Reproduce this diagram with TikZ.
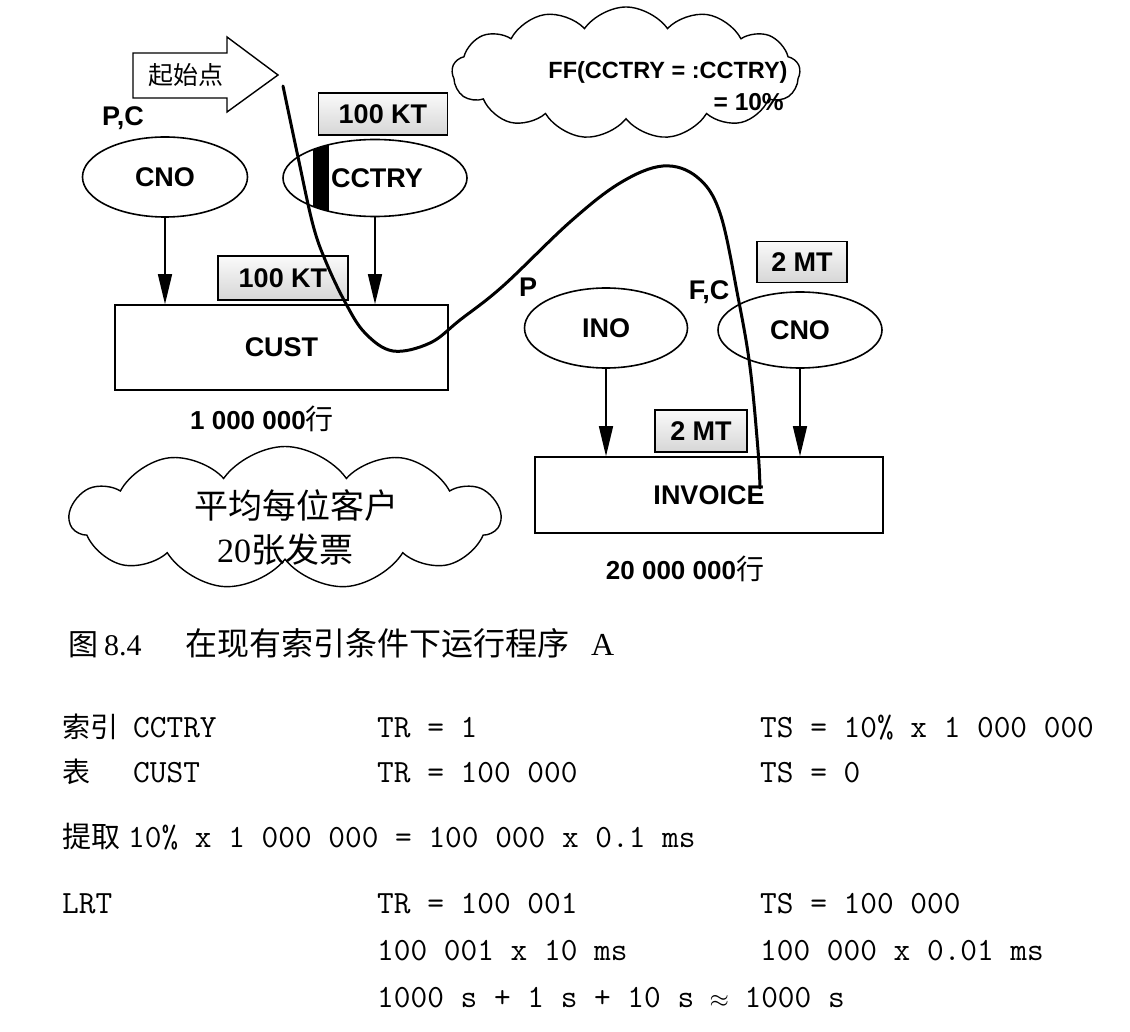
\documentclass[tikz,border=0pt]{standalone}
\usepackage{fontspec}
\setmainfont{Liberation Serif}
\setsansfont{Liberation Sans}
\newfontfamily\cjk{Noto Sans CJK SC}
\usetikzlibrary{shapes.geometric,shapes.symbols,arrows.meta}
\begin{document}
\begin{tikzpicture}[x=1pt,y=-1pt,
  lbl/.style={font=\sffamily\bfseries\fontsize{27}{30}\selectfont},
  ell/.style={ellipse, draw, line width=1.6pt, inner sep=0, lbl},
  tbl/.style={rectangle, draw, line width=1.6pt, inner sep=0, lbl},
  tagbox/.style={rectangle, draw, line width=1.3pt, top color=gray!4, bottom color=gray!32, inner sep=0, lbl},
  arr/.style={line width=1.6pt, -{Triangle[length=30pt,width=14pt]}},
  cloudsty/.style={cloud, draw, cloud puffs=11, cloud puff arc=110, cloud ignores aspect, line width=1.4pt, inner sep=0},
  mono/.style={font=\ttfamily\fontsize{32.4}{36}\selectfont, anchor=base west, inner sep=0},
  cjkrow/.style={font=\cjk\fontsize{28}{30}\selectfont, anchor=base west, inner sep=0},
  captxt/.style={anchor=base west, inner sep=0}
]
\useasboundingbox (0,0) rectangle (1130,1032);
\fill[white] (0,0) rectangle (1130,1032);

% start arrow
\draw[line width=1.4pt, fill=white] (133,53) -- (227,53) -- (227,37) -- (278,75) -- (227,112) -- (227,98) -- (133,98) -- cycle;
\node[inner sep=0, font=\cjk\fontsize{25}{27}\selectfont] (start) at (186,75) {起始点};

% clouds
\node[cloudsty, cloud puffs=13, minimum width=348, minimum height=132] (cloudA) at (626,73) {};
\node[inner sep=0, font=\sffamily\bfseries\fontsize{23.5}{28}\selectfont] (ffa) at (668,72) {FF(CCTRY = :CCTRY)};
\node[inner sep=0, font=\sffamily\bfseries\fontsize{24.5}{28}\selectfont, anchor=east] (ffb) at (784,102) {= 10\%};

\node[cloudsty, minimum width=430, minimum height=143] (cloudB) at (285,518) {};
\node[inner sep=0, font=\cjk\fontsize{34}{36}\selectfont] (avg1) at (296,506) {平均每位客户};
\node[inner sep=0, font=\fontsize{34}{36}\selectfont] (avg2) at (285,550) {20{\cjk 张发票}};

% left part
\node[lbl, inner sep=0] (pc) at (123,118) {P,C};
\node[ell, minimum width=165, minimum height=80] (cno1) at (165,177) {CNO};
\node[tagbox, minimum width=129, minimum height=42] (tagA) at (383,114) {100 KT};
\begin{scope}
  \clip (375,178) ellipse [x radius=92, y radius=38.5];
  \fill (313,130) rectangle (329,230);
\end{scope}
\node[ell, minimum width=184, minimum height=77, text depth=0pt] (cctry) at (375,178) {\hspace*{4pt}CCTRY};
\node[tbl, minimum width=333, minimum height=85] (cust) at (281.5,347.5) {CUST};
\node[tagbox, minimum width=130, minimum height=44] (tagB) at (283,278) {100 KT};
\draw[arr] (cno1.south) -- (cno1.south |- cust.north);
\draw[arr] (cctry.south) -- (cctry.south |- cust.north);
\node[inner sep=0, font=\sffamily\bfseries\fontsize{26}{28}\selectfont] (rows1) at (262,419) {1 000 000{\cjk\mdseries\fontsize{28}{30}\selectfont 行}};

% right part
\node[lbl, inner sep=0] (p2) at (528,287) {P};
\node[lbl, inner sep=0] (fc) at (709,292) {F,C};
\node[ell, minimum width=163, minimum height=80] (ino) at (606,328) {INO};
\node[ell, minimum width=164, minimum height=76] (cno2) at (800,330) {CNO};
\node[tagbox, minimum width=90, minimum height=41] (tagC) at (802,262) {2 MT};
\node[tbl, minimum width=348, minimum height=76] (inv) at (709,495) {INVOICE};
\node[tagbox, minimum width=92, minimum height=42] (tagD) at (701,431) {2 MT};
\draw[arr] (ino.south) -- (ino.south |- inv.north);
\draw[arr] (cno2.south) -- (cno2.south |- inv.north);
\node[inner sep=0, font=\sffamily\bfseries\fontsize{26}{28}\selectfont] (rows2) at (685,569) {20 000 000{\cjk\mdseries\fontsize{28}{30}\selectfont 行}};

% access path curve
\draw[line width=3pt, line cap=round] plot[smooth, tension=0.6] coordinates {
 (283,86) (298,157) (313,225) (326,262) (345,302) (365,333) (393,351) (430,343) (460,320)
 (503,286) (570,222) (620,183) (663,166) (697,177) (720,213) (738,297) (750,367) (758,450) (760,488)};

% caption
\node[captxt, font=\cjk\fontsize{30}{32}\selectfont] (cap1) at (68,655) {图};
\node[captxt, font=\fontsize{30}{32}\selectfont] (cap2) at (104,655) {8.4};
\node[captxt, font=\cjk\fontsize{32}{34}\selectfont] (cap3) at (185,655) {在现有索引条件下运行程序};
\node[captxt, font=\fontsize{32}{34}\selectfont] (cap4) at (591,655) {A};

% calculation rows
\node[cjkrow] (r1a) at (62,737) {索引};
\node[mono] (r1b) at (133,737) {CCTRY};
\node[mono] (r1c) at (377,737) {TR = 1};
\node[mono] (r1d) at (760,737) {TS = 10\% x 1 000 000};

\node[cjkrow] (r2a) at (62,782) {表};
\node[mono] (r2b) at (133,782) {CUST};
\node[mono] (r2c) at (377,782) {TR = 100 000};
\node[mono] (r2d) at (760,782) {TS = 0};

\node[cjkrow, font=\cjk\fontsize{29}{30}\selectfont] (r3a) at (62,847) {提取};
\node[mono] (r3b) at (128,847) {10\% x 1 000 000 = 100 000 x 0.1 ms};

\node[mono] (r4a) at (62,913) {LRT};
\node[mono] (r4c) at (377,913) {TR = 100 001};
\node[mono] (r4d) at (760,913) {TS = 100 000};

\node[mono] (r5c) at (377,960) {100 001 x 10 ms};
\node[mono] (r5d) at (760,960) {100 000 x 0.01 ms};

\node[mono] (r6c) at (377,1007) {1000 s + 1 s + 10 s \makebox[17pt]{$\approx$} 1000 s};
\end{tikzpicture}
\end{document}
